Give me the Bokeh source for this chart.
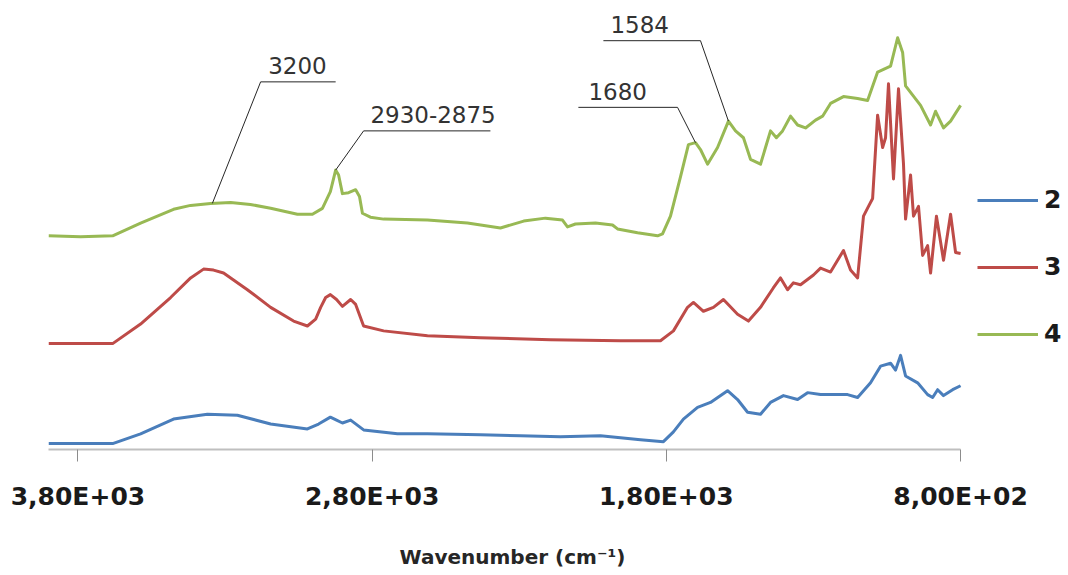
import numpy as np
from bokeh.plotting import figure
from bokeh.models import Range1d, FixedTicker, Legend, LegendItem
from bokeh.core.properties import value
from bokeh.embed import file_html
from bokeh.resources import INLINE

# ---------------- data (wavenumber cm-1, intensity a.u.) ----------------
wn_2 = [3900, 3682, 3587, 3475, 3360, 3258, 3145, 3020, 2982, 2942, 2921, 2901, 2873, 2829,
        2714, 2612, 2432, 2296, 2160, 2024, 1888, 1810, 1776, 1742, 1694, 1650, 1592, 1558,
        1524, 1480, 1446, 1402, 1354, 1320, 1276, 1184, 1150, 1106, 1072, 1038, 1021, 1004,
        987, 946, 912, 895, 878, 858, 827, 800]
int_2 = [6, 6, 16, 31, 36, 35, 26, 21, 26, 33, 30, 27, 30, 20,
         16, 16, 15, 14, 13, 14, 10, 8, 18, 31, 43, 48, 60, 51,
         38, 36, 48, 55, 51, 58, 56, 56, 53, 68, 85, 88, 81, 96,
         75, 68, 56, 53, 61, 55, 61, 65]

wn_3 = [3900, 3682, 3587, 3485, 3417, 3373, 3339, 3305, 3224, 3145, 3067, 3020, 2992, 2975,
        2958, 2942, 2921, 2901, 2873, 2856, 2829, 2761, 2612, 2432, 2194, 1956, 1820, 1776,
        1728, 1708, 1674, 1640, 1606, 1558, 1521, 1480, 1436, 1412, 1388, 1368, 1344, 1300,
        1276, 1242, 1198, 1174, 1150, 1130, 1113, 1099, 1082, 1065, 1055, 1045, 1028, 1011,
        994, 987, 970, 960, 943, 929, 912, 902, 882, 858, 834, 817, 800]
int_3 = [108, 108, 128, 155, 175, 184, 183, 180, 163, 145, 131, 126, 133, 145,
         155, 158, 153, 146, 153, 148, 126, 121, 116, 114, 112, 111, 111, 121,
         145, 150, 141, 145, 153, 138, 131, 145, 165, 175, 163, 170, 168, 178,
         185, 181, 203, 183, 175, 238, 248, 256, 341, 308, 318, 373, 276, 368,
         291, 235, 280, 238, 248, 198, 208, 180, 238, 193, 240, 201, 200]

wn_4 = [3900, 3791, 3682, 3587, 3475, 3417, 3349, 3281, 3214, 3145, 3054, 3003, 2969, 2942,
        2924, 2914, 2901, 2880, 2856, 2843, 2833, 2806, 2761, 2612, 2476, 2364, 2285, 2211,
        2153, 2136, 2109, 2041, 1983, 1966, 1898, 1830, 1813, 1786, 1752, 1725, 1701, 1684,
        1660, 1626, 1589, 1565, 1538, 1514, 1480, 1463, 1446, 1426, 1405, 1378, 1354, 1327,
        1293, 1269, 1242, 1198, 1150, 1116, 1082, 1038, 1014, 997, 987, 936, 902, 885,
        858, 834, 800]
int_4 = [218, 217, 218, 231, 245, 249, 251, 252, 250, 246, 240, 240, 246, 263,
         285, 280, 261, 262, 265, 258, 241, 237, 235, 234, 231, 226, 233, 236,
         234, 227, 230, 231, 229, 225, 221, 218, 220, 238, 278, 311, 313, 306,
         291, 308, 335, 325, 318, 296, 291, 308, 325, 318, 325, 340, 331, 328,
         336, 340, 353, 360, 358, 356, 385, 391, 420, 405, 371, 351, 331, 345,
         328, 335, 351]

series_names = ["2", "3", "4"]
series_colors = ["#4A7EBB", "#BE4B48", "#98B954"]

tick_values = [3800, 2800, 1800, 800]
tick_labels = ["3,80E+03", "2,80E+03", "1,80E+03", "8,00E+02"]
axis_title = "Wavenumber (cm⁻¹)"
axis_start, axis_end = 3900, 800          # extent of the drawn wavenumber axis
view_end = 440                            # plot area continues to the right to hold the legend

# annotations: text, wavenumber pointed to on trace 4, elbow x, elbow/underline y, underline far end x
ann_text = ["3200", "2930-2875", "1680", "1584"]
ann_target = [3343, 2924, 1701, 1589]
ann_elbow_x = [3179, 2829, 1762, 1684]
ann_line_y = [375, 325, 349, 417]
ann_end_x = [2924, 2398, 2099, 2014]
ann_text_x = [3054, 2806, 2065, 1990]
ann_text_align = ["center", "left", "left", "left"]

# ---------------- figure ----------------
p = figure(width=1066, height=571, output_backend="svg", toolbar_location=None,
           x_range=Range1d(axis_start, view_end), y_range=Range1d(0, 458),
           y_axis_location=None,
           min_border_left=48, min_border_right=0, min_border_top=0, min_border_bottom=113)
p.outline_line_color = None
p.xgrid.visible = False
p.ygrid.visible = False
p.background_fill_color = "white"
p.border_fill_color = "white"

renderers = []
for wn, it, c in zip([wn_2, wn_3, wn_4], [int_2, int_3, int_4], series_colors):
    r = p.line(wn, it, line_color=c, line_width=3, line_join="round")
    renderers.append(r)

# annotation leaders
wn4_inc = np.array(wn_4[::-1], dtype=float)
int4_inc = np.array(int_4[::-1], dtype=float)
for t, tx, ex, ly, endx, txx, al in zip(ann_text, ann_target, ann_elbow_x, ann_line_y,
                                          ann_end_x, ann_text_x, ann_text_align):
    ty = float(np.interp(tx, wn4_inc, int4_inc))
    p.line([endx, ex, tx], [ly, ly, ty], line_color="#262626", line_width=1)
    p.text([txx], [ly + 8], text=[t], text_font=value("DejaVu Sans"), text_font_size="23px",
           text_color="#333333", text_align=al, text_baseline="bottom")

ax = p.xaxis[0]
ax.bounds = (axis_end, axis_start)
ax.ticker = FixedTicker(ticks=tick_values)
ax.major_label_overrides = {v: l for v, l in zip(tick_values, tick_labels)}
ax.minor_tick_line_color = None
ax.axis_line_color = "#BFBFBF"
ax.axis_line_width = 2
ax.major_tick_line_color = "#8C8C8C"
ax.major_tick_in = 0
ax.major_tick_out = 12
ax.major_label_standoff = 20
ax.major_label_text_font = "DejaVu Sans"
ax.major_label_text_font_style = "bold"
ax.major_label_text_font_size = "25px"
ax.major_label_text_color = "#1A1A1A"
# trailing em/en spaces move the centred title over the drawn axis rather than the wider plot area
ax.axis_label = axis_title + "\u2003\u2003\u2003\u2003\u2002"
ax.axis_label_text_font = "DejaVu Sans"
ax.axis_label_text_font_style = "bold"
ax.axis_label_text_font_size = "20px"
ax.axis_label_text_color = "#262626"
ax.axis_label_standoff = 31

legend = Legend(items=[LegendItem(label=n, renderers=[r]) for n, r in zip(series_names, renderers)],
                location=(929, 101), orientation="vertical",
                glyph_width=61, glyph_height=28, label_height=28, spacing=38,
                label_standoff=6, padding=0, margin=0,
                label_text_font="DejaVu Sans", label_text_font_style="bold",
                label_text_font_size="25px", label_text_color="#1A1A1A",
                border_line_alpha=0, background_fill_alpha=0)
p.add_layout(legend, "center")

open("out.html", "w").write(file_html(p, INLINE))
